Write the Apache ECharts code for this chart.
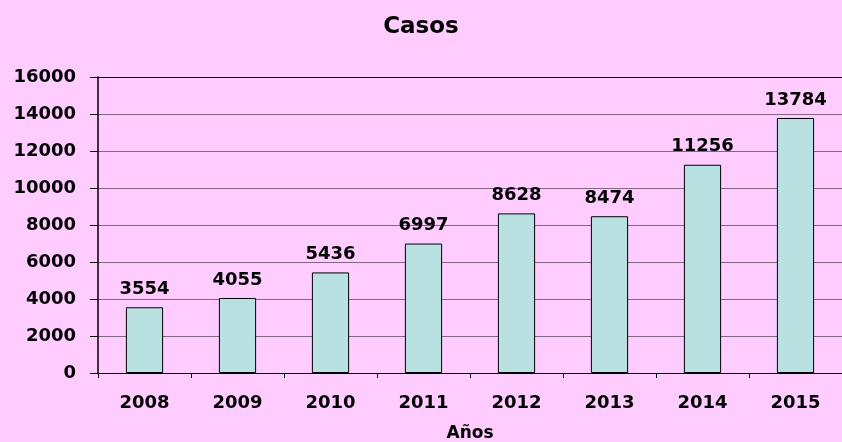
<!DOCTYPE html>
<html>
<head>
<meta charset="utf-8">
<script src="https://cdn.jsdelivr.net/npm/echarts@6/dist/echarts.min.js"></script>
<style>
  html, body { margin: 0; padding: 0; background: #FFCCFF; }
  #main { width: 842px; height: 442px; }
</style>
</head>
<body>
<div id="main"></div>
<script>
const years = ['2008', '2009', '2010', '2011', '2012', '2013', '2014', '2015'];
const casos = [3554, 4055, 5436, 6997, 8628, 8474, 11256, 13784];
const yTicks = [0, 2000, 4000, 6000, 8000, 10000, 12000, 14000, 16000];

const font = 'DejaVu Sans';
let chart = echarts.init(document.getElementById('main'));
let option = {
    backgroundColor: '#FFCCFF',
    animation: false,
    textStyle: { fontFamily: font },
    title: {
        text: 'Casos',
        left: 'center',
        top: 11,
        textStyle: { fontFamily: font, fontWeight: 'bold', fontSize: 23, color: '#000' }
    },
    grid: { left: 98, right: 0, top: 77, bottom: 69, show: false, containLabel: false, outerBoundsMode: 'none' },
    xAxis: {
        type: 'category',
        data: years,
        name: 'Años',
        nameLocation: 'middle',
        nameGap: 52,
        nameTextStyle: { fontFamily: font, fontWeight: 'bold', fontSize: 17, color: '#000' },
        axisLine: { lineStyle: { color: '#000', width: 1 } },
        axisTick: { show: true, length: 5, lineStyle: { color: '#000' } },
        axisLabel: { margin: 21, fontFamily: font, fontWeight: 'bold', fontSize: 18, color: '#000' }
    },
    yAxis: {
        type: 'value',
        min: yTicks[0],
        max: yTicks[yTicks.length - 1],
        interval: 2000,
        axisLine: { show: true, lineStyle: { color: '#000', width: 1.5 } },
        axisTick: { show: true, length: 8, lineStyle: { color: '#000' } },
        axisLabel: {
            margin: 22,
            fontFamily: font,
            fontWeight: 'bold',
            fontSize: 18,
            color: '#000',
            formatter: function (v) { return String(v); }
        },
        splitLine: {
            show: true,
            lineStyle: {
                color: ['#000', '#806680', '#806680', '#806680', '#806680', '#806680', '#806680', '#806680', '#000'],
                width: 1
            }
        }
    },
    series: [{
        name: 'Casos',
        type: 'bar',
        data: casos,
        barWidth: '40%',
        itemStyle: { color: '#B9E1E1', borderColor: '#000', borderWidth: 1 },
        label: {
            show: true,
            position: 'top',
            distance: 9,
            fontFamily: font,
            fontWeight: 'bold',
            fontSize: 18,
            color: '#000'
        }
    }]
};
chart.setOption(option);
</script>
</body>
</html>
